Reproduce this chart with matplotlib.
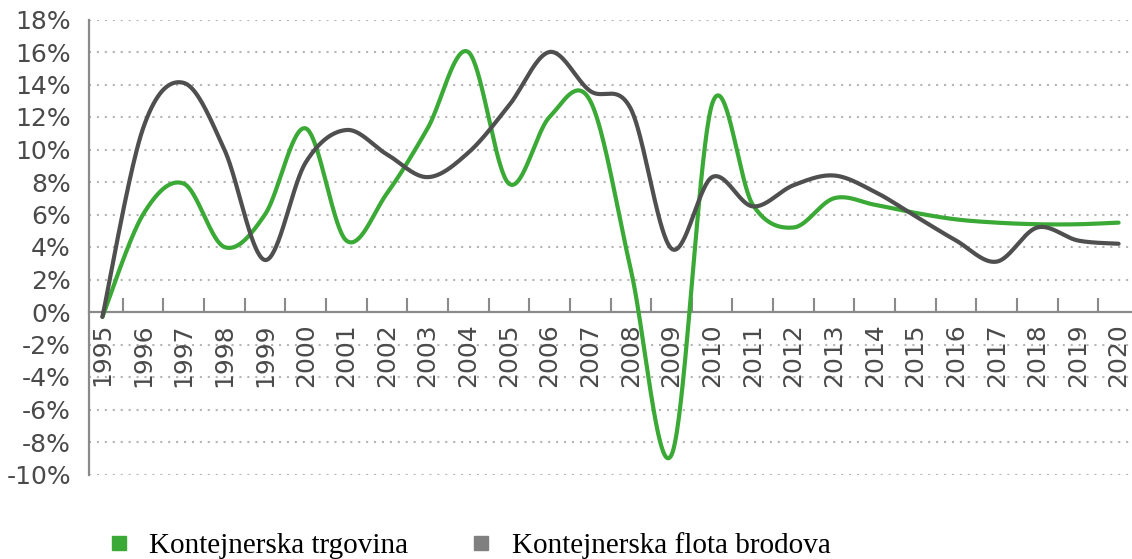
import numpy as np
import matplotlib
matplotlib.use("Agg")
import matplotlib.pyplot as plt
from matplotlib.lines import Line2D

years = [str(y) for y in range(1995, 2021)]
trgovina = [-0.3, 6.0, 7.9, 4.0, 6.0, 11.3, 4.4, 7.3, 11.3, 16.0, 7.9, 12.0, 13.0,
            2.6, -8.8, 12.8, 6.6, 5.2, 7.0, 6.6, 6.1, 5.7, 5.5, 5.4, 5.4, 5.5]
flota = [-0.3, 11.3, 14.1, 10.0, 3.2, 9.2, 11.2, 9.7, 8.3, 9.8, 12.7, 16.0, 13.6,
         12.5, 3.9, 8.3, 6.5, 7.8, 8.4, 7.4, 5.9, 4.4, 3.1, 5.2, 4.4, 4.2]
yticks = list(range(-10, 19, 2))
labels = ["Kontejnerska trgovina", "Kontejnerska flota brodova"]

GREEN = "#3aa935"
DARK = "#4f4f4f"
LEG_GRAY = "#808080"
TXT = "#4a4a4a"
AXC = "#8a8a8a"


def smooth(x, y, n=40):
    pts = np.column_stack([x, y]).astype(float)
    P = np.vstack([pts[0], pts, pts[-1]])
    out = []
    t = np.linspace(0, 1, n)[:, None]
    for i in range(len(pts) - 1):
        p0, p1, p2, p3 = P[i], P[i + 1], P[i + 2], P[i + 3]
        c1 = p1 + (p2 - p0) / 6
        c2 = p2 - (p3 - p1) / 6
        seg = ((1 - t) ** 3) * p1 + 3 * ((1 - t) ** 2) * t * c1 + 3 * (1 - t) * t ** 2 * c2 + t ** 3 * p2
        out.append(seg if i == 0 else seg[1:])
    s = np.vstack(out)
    return s[:, 0], s[:, 1]


W, H = 1132, 559
fig = plt.figure(figsize=(W / 100, H / 100), dpi=100)
ax = fig.add_axes([89 / W, 1 - 474.5 / H, 1 - 89 / W, (474.5 - 19.5) / H])

x = np.arange(len(years))
ax.set_xlim(-0.33, 25.33)
ax.set_ylim(-10, 18)

# gridlines
for v in yticks:
    if v != 0:
        ax.axhline(v, color="#b4b4b4", lw=1.5, ls=(0, (1, 2.8)), zorder=1)

gx, gy = smooth(x, trgovina)
bx, by = smooth(x, flota)
ax.plot(gx, gy, color=GREEN, lw=3, zorder=3, solid_capstyle="round")
ax.plot(bx, by, color=DARK, lw=3, zorder=4, solid_capstyle="round")

# spines
for s in ["top", "right"]:
    ax.spines[s].set_visible(False)
ax.spines["left"].set_color(AXC)
ax.spines["left"].set_linewidth(1.6)
ax.spines["bottom"].set_position(("data", 0))
ax.spines["bottom"].set_color(AXC)
ax.spines["bottom"].set_linewidth(1.6)

# y ticks
ax.set_yticks(yticks)
ax.set_yticklabels([f"{v}%" for v in yticks])
ax.tick_params(axis="y", length=0, pad=13, labelsize=18, labelcolor=TXT)

# x ticks: boundaries (major, pointing up) and labels (minor)
ax.set_xticks(x[:-1] + 0.5)
ax.set_xticklabels([])
ax.tick_params(axis="x", which="major", direction="in", length=10, width=1.5, color=AXC)
ax.set_xticks(x, minor=True)
ax.set_xticklabels(years, minor=True, rotation=90)
ax.tick_params(axis="x", which="minor", length=0, pad=8, labelsize=18, labelcolor=TXT)
for lab in ax.get_xticklabels(minor=True):
    lab.set_verticalalignment("top")

handles = [Line2D([], [], ls="none", marker="s", markersize=10, color=GREEN),
           Line2D([], [], ls="none", marker="s", markersize=10, color=LEG_GRAY)]
fig.legend(handles, labels, loc="center left", bbox_to_anchor=(110 / W, 1 - 546 / H),
           ncol=2, frameon=False, borderpad=0, borderaxespad=0,
           handlelength=0.6, handletextpad=0.75, columnspacing=2.2,
           prop={"family": "Liberation Serif", "size": 21})

fig.savefig("out.png", dpi=100)
